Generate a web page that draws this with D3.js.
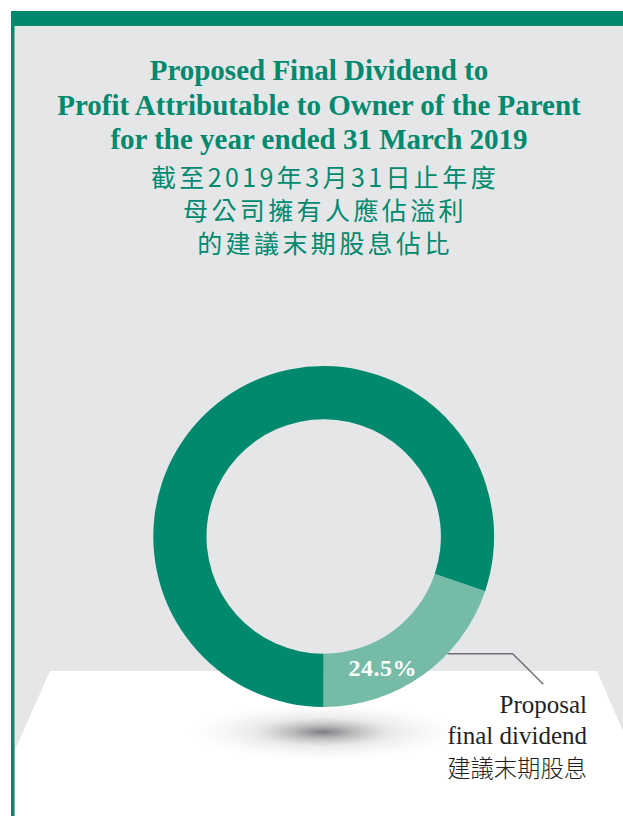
<!DOCTYPE html>
<html><head><meta charset="utf-8">
<script src="https://cdn.jsdelivr.net/npm/d3@7"></script>
<style>html,body{margin:0;padding:0;background:#fff;}svg{display:block;}</style>
</head><body>
<script>
// ---- data ----
const titleEn = ["Proposed Final Dividend to", "Profit Attributable to Owner of the Parent", "for the year ended 31 March 2019"];
const titleZh = ["截至2019年3月31日止年度", "母公司擁有人應佔溢利", "的建議末期股息佔比"];
const categories = ["Other profit", "Proposal final dividend"];
// arc shares as drawn in the reference (percent of the ring)
const arcShares = [80.2, 19.8];
const valueLabels = ["", "24.5%"];
const legendLines = ["Proposal", "final dividend", "建議末期股息"];

const W = 623, H = 816;
const green = "#00896d", light = "#75bba7", grey = "#e5e6e8";

const svg = d3.select("body").append("svg").attr("width", W).attr("height", H);

// background panel
svg.append("rect").attr("x", 11).attr("y", 11).attr("width", W - 11).attr("height", H - 11).attr("fill", grey);
// floor
svg.append("path").attr("fill", "#fff")
  .attr("d", "M50,671 L597,671 L623,731 L623,816 L15,816 L15,750 Z");
// top bar and left border
svg.append("rect").attr("x", 11).attr("y", 11).attr("width", W - 11).attr("height", 15).attr("fill", green);
svg.append("rect").attr("x", 11).attr("y", 11).attr("width", 3.5).attr("height", H - 11).attr("fill", green);

// shadow
const defs = svg.append("defs");
const rg = defs.append("radialGradient").attr("id", "sh");
rg.append("stop").attr("offset", "0%").attr("stop-color", "#6d6e71").attr("stop-opacity", 0.9);
rg.append("stop").attr("offset", "20%").attr("stop-color", "#808285").attr("stop-opacity", 0.6);
rg.append("stop").attr("offset", "50%").attr("stop-color", "#a7a9ac").attr("stop-opacity", 0.25);
rg.append("stop").attr("offset", "100%").attr("stop-color", "#d1d3d4").attr("stop-opacity", 0);
svg.append("ellipse").attr("cx", 323).attr("cy", 732).attr("rx", 135).attr("ry", 28).attr("fill", "url(#sh)");

// titles
const tEn = svg.append("g").attr("fill", green).attr("font-family", "'Liberation Serif', 'Times New Roman', serif")
  .attr("font-weight", "bold").attr("font-size", 29).attr("text-anchor", "middle");
tEn.selectAll("text").data(titleEn).join("text")
  .attr("x", 319).attr("y", (d, i) => 80 + i * 34.5).text(d => d);

const tZh = svg.append("g").attr("fill", green).attr("font-family", "'Noto Sans CJK TC', 'Noto Sans CJK SC', sans-serif")
  .attr("font-size", 25).attr("text-anchor", "middle").style("letter-spacing", "3.4px");
tZh.selectAll("text").data(titleZh).join("text")
  .attr("x", 325).attr("y", (d, i) => 187 + i * 33).text(d => d);

// donut
const cx = 323.7, cy = 536.5, rOut = 170.4, rIn = 117.2;
const g = svg.append("g").attr("transform", `translate(${cx},${cy})`);
const pie = d3.pie().sort(null).startAngle(Math.PI).endAngle(3 * Math.PI);
const arcs = pie(arcShares);
const arc = d3.arc().innerRadius(rIn).outerRadius(rOut);
g.selectAll("path").data(arcs).join("path")
  .attr("d", arc).attr("fill", (d, i) => i === 0 ? green : light);

// value label
const lab = arcs[1];
const la = lab.startAngle + 0.66 * (lab.endAngle - lab.startAngle);
const lr = 144;
g.append("text").attr("x", lr * Math.sin(la)).attr("y", -lr * Math.cos(la) + 8)
  .attr("text-anchor", "middle").attr("fill", "#fff")
  .attr("font-family", "'Liberation Serif', serif").attr("font-weight", "bold").attr("font-size", 24)
  .style("letter-spacing", "0.5px")
  .text(valueLabels[1]);

// leader line
const yL = 117.2;
const xL = Math.sqrt(rOut * rOut - yL * yL);
g.append("path").attr("fill", "none").attr("stroke", "#6d6e71").attr("stroke-width", 1.4)
  .attr("d", `M${xL},${yL} L${512.7 - cx},${yL} L${543.3 - cx},${684.3 - cy}`);

// legend text
const lg = svg.append("g").attr("text-anchor", "end").attr("fill", "#231f20");
lg.selectAll("text").data(legendLines).join("text")
  .attr("x", 587).attr("y", (d, i) => [713, 744, 777][i])
  .attr("font-family", (d, i) => i < 2 ? "'Liberation Serif', serif" : "'Noto Sans CJK TC', sans-serif")
  .attr("font-size", (d, i) => i < 2 ? 25 : 23.3)
  .attr("font-weight", (d, i) => i < 2 ? "normal" : "300")
  .text(d => d);
</script>
</body></html>
